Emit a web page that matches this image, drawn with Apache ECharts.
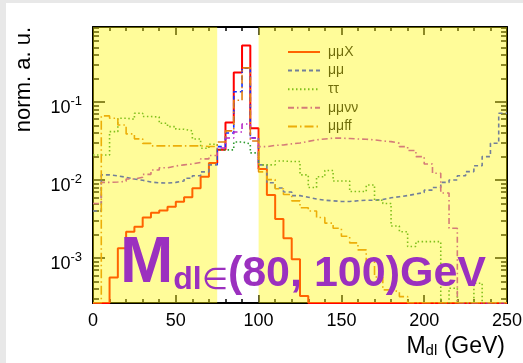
<!DOCTYPE html>
<html><head><meta charset="utf-8">
<script src="https://cdn.jsdelivr.net/npm/echarts@6/dist/echarts.min.js"></script>
<style>
html,body{margin:0;padding:0;background:#e8e8e8;width:523px;height:363px;overflow:hidden}
#c{position:absolute;left:6px;top:3px;width:517px;height:360px;background:#fff}
</style></head><body><div id="c"></div><script>
// ---- data (bin lower edges in GeV, 5 GeV bins) ----
const binLow = [0,5,10,15,20,25,30,35,40,45,50,55,60,65,70,75,80,85,90,95,
  100,105,110,115,120,125,130,135,140,145,150,155,160,165,170,175,180,185,190,195,
  200,205,210,215,220,225,230,235,240,245];
const xMax = 250;
const muMuX = [0,0,5.6e-4,1.33e-3,2.17e-3,2.52e-3,3.29e-3,3.81e-3,4.05e-3,4.55e-3,
  5.27e-3,6.0e-3,7.8e-3,1.10e-2,1.65e-2,0.0243,0.0543,0.238,0.527,0.046,
  0.0138,6.43e-3,3.16e-3,1.79e-3,9.6e-4,3.26e-4,0,0,0,0,
  0,0,0,0,0,0,0,0,0,0, 0,0,0,0,0,0,0,0,0,0];
const muMu = [0.004,0.0116,0.0113,0.0108,0.0103,0.0099,0.0094,0.0092,0.0091,0.0093,
  0.0097,0.0105,0.0113,0.0127,0.0156,0.0267,0.040,0.135,0.27,0.0346,
  0.0156,0.0092,0.0079,0.0070,0.0063,0.0060,0.0057,0.0055,0.0054,0.0053,
  0.0053,0.0054,0.0055,0.0055,0.0056,0.0059,0.0061,0.0063,0.0066,0.0069,
  0.0074,0.0080,0.0093,0.0100,0.0113,0.0128,0.0152,0.0199,0.0295,0.0716];
const tauTau = [0.0209,0.0209,0.0416,0.0618,0.060,0.0716,0.0649,0.064,0.0533,0.0482,
  0.0447,0.0425,0.0335,0.0255,0.0287,0.0243,0.0243,0.0307,0.029,0.0222,
  0.0156,0.0156,0.0175,0.0172,0.0172,0.0116,0.0080,0.0110,0.0132,0.0097,
  0.0097,0.0071,0.0071,0.0086,0.0055,0.0050,0.00257,0.00217,0.0014,0.00162,
  0.00162,0.00162,0,0.00041,0,0,0.000475,0,0,0];
const muMuNuNu = [0.005,0.0093,0.0094,0.0096,0.0103,0.0108,0.0118,0.0134,0.0143,0.0151,
  0.0156,0.016,0.0168,0.0186,0.0206,0.0257,0.0345,0.0412,0.0522,0.0345,
  0.0267,0.0277,0.0281,0.029,0.0298,0.0312,0.0326,0.0335,0.0343,0.0343,
  0.034,0.0335,0.0332,0.0326,0.0316,0.031,0.0296,0.0267,0.0238,0.0199,
  0.016,0.0122,0.0068,0.0024,0,0,0,0,0,0];
const muMuFF = [0,0.0662,0.0618,0.0507,0.0389,0.0336,0.0294,0.0273,0.0273,0.0273,
  0.0273,0.0273,0.0273,0.0268,0.0268,0.0307,0.0425,0.105,0.273,0.0316,
  0.0127,0.0101,0.0077,0.0065,0.0054,0.0044,0.0040,0.0033,0.0028,0.0024,
  0.0019,0.00156,0.00127,0.00089,0.00057,0.00039,0.00037,0.00032,0,0,
  0,0,0,0,0,0,0,0,0,0];
const seriesNames = ['μμX','μμ','ττ','μμνν','μμff'];
const seriesValues = [muMuX, muMu, tauTau, muMuNuNu, muMuFF];
const yDecadeExps = [-3,-2,-1];
const xTickStep = 50;
const shadedBands = [[-4.5,75],[100,250]];
const yMinLog = -3.577, yMaxLog = -0.04;

// ---- styles ----
const FONT = '"Liberation Sans", Arial, Helvetica, sans-serif';
const lineColors = ['#ff0000','#1530ff','#2e9a2e','#b82ac8','#e07e10'];
const lineTypes = ['solid',[4,3],[1.5,2.5],[6,3,1.5,3],[9,3,1.5,3]];
const lineWidths = [2,1.6,1.6,1.6,1.6];

function toLog(v){ return v > 0 ? Math.max(Math.log10(v), yMinLog) : yMinLog; }
function histPoints(vals){
  const pts = binLow.map((x,i)=>[x, toLog(vals[i])]);
  pts.push([xMax, toLog(vals[vals.length-1])]);
  return pts;
}
const minorY = [];
for (let n=-4;n<0;n++) for (let k=2;k<=9;k++){ const v=n+Math.log10(k); if(v>yMinLog && v<yMaxLog) minorY.push(v); }

const series = seriesNames.map((nm,i)=>({
  name: nm, type:'line', step:'end', symbol:'none', showSymbol:false,
  data: histPoints(seriesValues[i]), z: 3,
  lineStyle:{color:lineColors[i], width:lineWidths[i], type:lineTypes[i]},
  itemStyle:{color:lineColors[i]}
}));
series.push({
  name:'_shade', type:'line', data:[], silent:true, clip:false, z:10,
  markArea:{ silent:true, z:10, itemStyle:{color:'rgba(255,248,0,0.40)'},
    data: shadedBands.map(b=>[{xAxis:b[0], yAxis:yMinLog},{xAxis:b[1], yAxis:yMaxLog}]) }
});

const axisLineS = {show:true, lineStyle:{color:'#000', width:2}};
const xBase = {type:'value', min:0, max:xMax, interval:xTickStep, splitLine:{show:false},
  axisLine:axisLineS, axisTick:{inside:true, length:8, lineStyle:{color:'#000', width:1.5}},
  minorTick:{show:true, splitNumber:5, length:4, lineStyle:{color:'#000', width:1.5}}};
const yBase = {type:'value', min:yMinLog, max:yMaxLog, splitLine:{show:false}};
const PURPLE = '#9b30bf';

const chart = echarts.init(document.getElementById('c'));
chart.setOption({
  animation:false,
  grid:{left:87, right:16, top:24, bottom:60, containLabel:false, outerBoundsMode:'none'},
  legend:{ data:seriesNames, orient:'vertical', left:276, top:37, itemWidth:32, itemHeight:14, itemGap:4.6,
    z:5, itemStyle:{opacity:0},
    textStyle:{fontFamily:FONT, fontSize:14, color:'#111', padding:[0,0,0,3]}, selectedMode:false },
  xAxis:[
    Object.assign({}, xBase, {position:'bottom', axisLabel:{fontFamily:FONT, fontSize:18, color:'#000', margin:9}}),
    Object.assign({}, xBase, {position:'top', axisLabel:{show:false}})
  ],
  yAxis:[
    Object.assign({}, yBase, {position:'left', axisLine:axisLineS,
      axisTick:{inside:true, length:12, customValues:yDecadeExps, lineStyle:{color:'#000', width:1.5}},
      axisLabel:{customValues:yDecadeExps, margin:11, padding:[8,0,0,0],
        formatter:v=>'{b|10}{s|'+v+'}',
        rich:{b:{fontFamily:FONT, fontSize:18, color:'#000', lineHeight:22, verticalAlign:'bottom'},
              s:{fontFamily:FONT, fontSize:13, color:'#000', lineHeight:14, verticalAlign:'top'}}}}),
    Object.assign({}, yBase, {position:'left', axisLine:{show:false}, axisLabel:{show:false},
      axisTick:{inside:true, length:6, customValues:minorY, lineStyle:{color:'#000', width:1.5}}}),
    Object.assign({}, yBase, {position:'right', axisLine:axisLineS, axisLabel:{show:false},
      axisTick:{inside:true, length:12, customValues:yDecadeExps, lineStyle:{color:'#000', width:1.5}}}),
    Object.assign({}, yBase, {position:'right', axisLine:{show:false}, axisLabel:{show:false},
      axisTick:{inside:true, length:6, customValues:minorY, lineStyle:{color:'#000', width:1.5}}})
  ],
  series: series,
  graphic:[
    {type:'text', x:18, y:24, rotation:Math.PI/2, z:50,
      style:{text:'norm. a. u.', fontFamily:FONT, fontSize:22, fill:'#000', align:'right', verticalAlign:'middle', textAlign:'right', textVerticalAlign:'middle'}},
    {type:'text', x:499, y:329, z:50,
      style:{text:'{m|M}{d|dl}{m| (GeV)}', align:'right', verticalAlign:'top', textAlign:'right', textVerticalAlign:'top',
        rich:{m:{fontFamily:FONT, fontSize:23, fill:'#000', color:'#000', lineHeight:26, verticalAlign:'bottom'},
              d:{fontFamily:FONT, fontSize:15, fill:'#000', color:'#000', lineHeight:10, verticalAlign:'bottom'}}}},
    {type:'text', x:114, y:248, z:100,
      style:{text:'{M|M}{d|dl}{e|∈}{t|(80, 100)GeV}', align:'left', verticalAlign:'top', textAlign:'left', textVerticalAlign:'top',
        rich:{M:{fontFamily:FONT, fontSize:64, fontWeight:'bold', fill:PURPLE, color:PURPLE, lineHeight:45, verticalAlign:'bottom'},
              d:{fontFamily:FONT, fontSize:32, fontWeight:'bold', fill:PURPLE, color:PURPLE, lineHeight:22.4, verticalAlign:'bottom'},
              e:{fontFamily:'"DejaVu Sans", sans-serif', fontSize:30, fill:PURPLE, color:PURPLE, lineHeight:21, verticalAlign:'bottom'},
              t:{fontFamily:FONT, fontSize:43, fontWeight:'bold', fill:PURPLE, color:PURPLE, lineHeight:30.1, verticalAlign:'bottom'}}}}
  ]
});
</script></body></html>
